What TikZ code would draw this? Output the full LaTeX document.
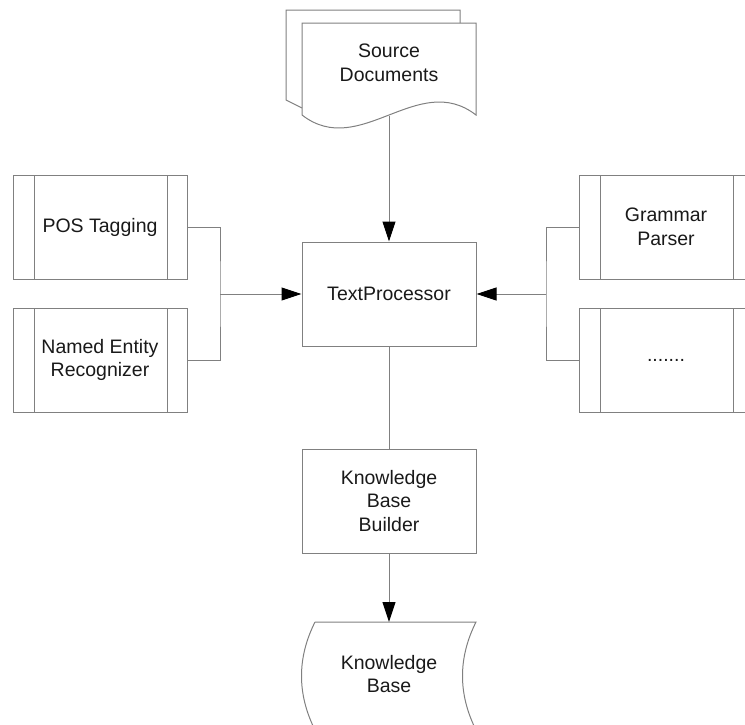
\documentclass[tikz,border=0pt]{standalone}
\usepackage{fontspec}
\setmainfont{Liberation Sans}
\usepackage{tikz}
\usetikzlibrary{arrows.meta}

\definecolor{linegray}{RGB}{128,128,128}

\begin{document}
\begin{tikzpicture}[x=1pt, y=-1pt,
	every node/.style={font=\fontsize{19.5}{23.5}\selectfont, text=black!90, align=center},
	box/.style={draw=linegray, line width=1pt, minimum width=174pt, minimum height=104pt, inner sep=0pt},
	subproc/.style={box, path picture={
		\draw[linegray, line width=1pt] ([xshift=21pt]path picture bounding box.north west) -- ([xshift=21pt]path picture bounding box.south west);
		\draw[linegray, line width=1pt] ([xshift=-20pt]path picture bounding box.north east) -- ([xshift=-20pt]path picture bounding box.south east);}},
	conn/.style={draw=linegray, line width=1pt},
	arr/.style={conn, -{Triangle[length=20pt, width=13pt, color=black]}}]
	\clip (0, 0) rectangle (745, 724);
	
	\draw [conn] (460, 23) -- (460, 10) -- (286, 10) -- (286, 100) -- (302, 108);
	\draw [conn] (302, 115) -- (302, 23) -- (476, 23) -- (476, 115)
		.. controls (418, 70) and (360, 160) .. (302, 115);
	\node (src) at (389, 63) {Source\\Documents};
	\coordinate (srcbot) at (389, 116);
	
	\node [box] (tp) at (389, 294) {TextProcessor};
	\node [box] (kbb) at (389, 501) {Knowledge\\Base\\Builder};
	
	\node [subproc] (pos) at (100, 227) {POS Tagging};
	\node [subproc] (ner) at (100, 360) {Named Entity\\Recognizer};
	\node [subproc] (gp) at (666, 227) {Grammar\\Parser};
	\node [subproc] (more) at (666, 360) {.......};
	
	\draw [conn] (315, 622) -- (476, 622)
		.. controls (458, 658) and (458, 694) .. (476, 730)
		-- (315, 730)
		.. controls (297, 694) and (297, 658) .. (315, 622);
	\node (kb) at (389, 674) {Knowledge\\Base};
	\coordinate (kbtop) at (389, 622);
	
	\coordinate (ljoin) at (220, 294);
	\coordinate (rjoin) at (546, 294);
	
	\draw [arr] (srcbot) -- (tp.north);
	\draw [conn] (pos.east) -| (ljoin) |- (ner.east);
	\draw [arr] (ljoin) -- (tp.west);
	\draw [conn] (gp.west) -| (rjoin) |- (more.west);
	\draw [arr] (rjoin) -- (tp.east);
	\draw [conn] (tp.south) -- (kbb.north);
	\draw [arr] (kbb.south) -- (kbtop);
\end{tikzpicture}
\end{document}
